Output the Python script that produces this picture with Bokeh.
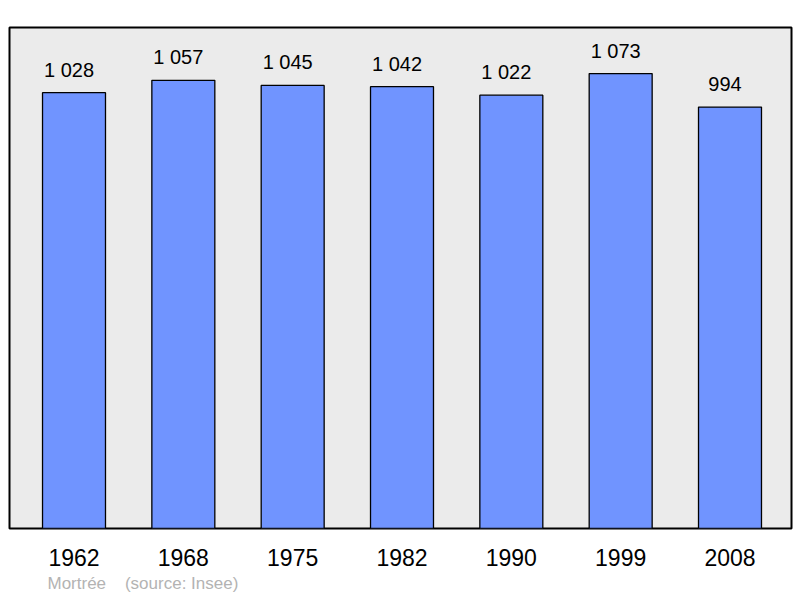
from bokeh.plotting import figure
from bokeh.models import ColumnDataSource, Range1d, FixedTicker, Title
from bokeh.core.properties import value
from bokeh.embed import file_html
from bokeh.resources import INLINE

years = ["1962", "1968", "1975", "1982", "1990", "1999", "2008"]
population = [1028, 1057, 1045, 1042, 1022, 1073, 994]
source_note = "Mortrée\u00a0\u00a0\u00a0\u00a0(source: Insee)"

xs = list(range(len(years)))
labels = [f"{v:,}".replace(",", " ") for v in population]
src = ColumnDataSource(dict(x=xs, top=population, label=labels))

p = figure(frame_width=782, frame_height=501, output_backend="svg",
           toolbar_location=None, x_range=Range1d(-0.59, 6.5625),
           y_range=Range1d(0, 1181.6), min_border_left=9, min_border_top=27,
           min_border_right=2, min_border_bottom=0)
p.background_fill_color = "#ebebeb"
p.border_fill_color = "white"
p.outline_line_color = "black"
p.outline_line_width = 2
p.grid.visible = False
p.yaxis.visible = False

p.vbar(x="x", top="top", width=0.576, bottom=0, source=src,
       fill_color="#7094ff", line_color="black", line_width=1.3)
p.text(x="x", y="top", text="label", source=src, x_offset=-5, y_offset=-23,
       text_align="center", text_baseline="alphabetic",
       text_font=value("Liberation Sans"), text_font_size="20px",
       text_color="black")

ax = p.xaxis[0]
ax.ticker = FixedTicker(ticks=xs)
ax.major_label_overrides = {i: y for i, y in zip(xs, years)}
ax.axis_line_color = None
ax.major_tick_line_color = None
ax.minor_tick_line_color = None
ax.major_tick_out = 0
ax.major_tick_in = 0
ax.major_label_standoff = 20
ax.major_label_text_font = "Liberation Sans"
ax.major_label_text_font_size = "23px"
ax.major_label_text_color = "black"

note = Title(text=source_note, align="left", offset=38,
             text_font="Liberation Sans", text_font_size="17px",
             text_font_style="normal", text_color="#b3b3b3",
             standoff=7)
p.add_layout(note, "below")

open("out.html", "w").write(file_html(p, INLINE))
